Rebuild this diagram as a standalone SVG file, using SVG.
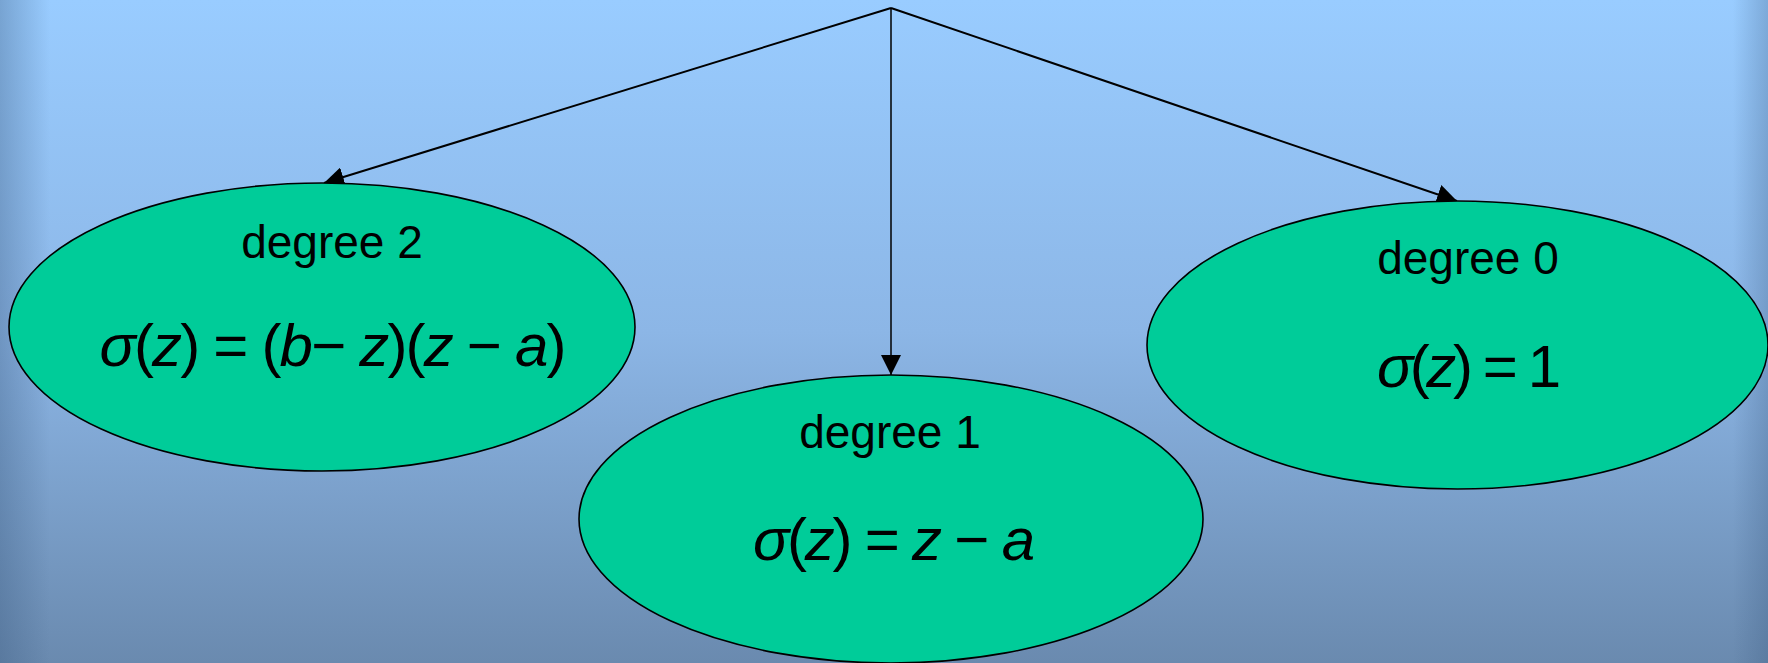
<svg xmlns="http://www.w3.org/2000/svg" width="1768" height="663" viewBox="0 0 1768 663">
  <defs>
    <linearGradient id="bg" x1="0" y1="0" x2="0" y2="1">
      <stop offset="0" stop-color="#99CCFF"/>
      <stop offset="0.5" stop-color="#8CB6E6"/>
      <stop offset="1" stop-color="#6A8AAF"/>
    </linearGradient>
    <linearGradient id="leftEdge" x1="0" y1="0" x2="1" y2="0">
      <stop offset="0" stop-color="#3A5A80" stop-opacity="0.35"/>
      <stop offset="1" stop-color="#3A5A80" stop-opacity="0"/>
    </linearGradient>
    <linearGradient id="rightEdge" x1="1" y1="0" x2="0" y2="0">
      <stop offset="0" stop-color="#3A5A80" stop-opacity="0.3"/>
      <stop offset="1" stop-color="#3A5A80" stop-opacity="0"/>
    </linearGradient>
    <marker id="arrow" markerUnits="userSpaceOnUse" markerWidth="20" markerHeight="20" refX="20" refY="10" orient="auto">
      <path d="M0,0 L20,10 L0,20 Z" fill="#000"/>
    </marker>
  </defs>
  <style>
    .node { fill: #00CC99; stroke: #000; stroke-width: 1.6; }
    .label { font-family: "Liberation Sans", Arial, sans-serif; font-size: 46px; fill: #000; text-anchor: middle; }
    .math { font-family: "Liberation Sans", Arial, sans-serif; font-size: 60px; fill: #000; text-anchor: middle; }
    .it { font-style: italic; }
    .edge { stroke: #000; fill: none; }
  </style>
  <rect x="0" y="0" width="1768" height="663" fill="url(#bg)"/>
  <rect x="0" y="0" width="50" height="663" fill="url(#leftEdge)"/>
  <rect x="1733" y="0" width="35" height="663" fill="url(#rightEdge)"/>

  <g id="connectors">
    <line class="edge" x1="891" y1="8" x2="324" y2="183" stroke-width="2" marker-end="url(#arrow)"/>
    <line class="edge" x1="891" y1="8" x2="891" y2="375" stroke-width="1.5" marker-end="url(#arrow)"/>
    <line class="edge" x1="891" y1="8" x2="1457" y2="201" stroke-width="2" marker-end="url(#arrow)"/>
  </g>

  <g id="node-degree2">
    <ellipse class="node" cx="322" cy="327" rx="313" ry="144"/>
    <text class="label" x="332" y="258">degree 2</text>
    <text class="math" x="333" y="366" textLength="467" lengthAdjust="spacing"><tspan class="it">σ</tspan>(<tspan class="it">z</tspan>) = (<tspan class="it">b</tspan>− <tspan class="it">z</tspan>)(<tspan class="it">z</tspan> − <tspan class="it">a</tspan>)</text>
  </g>

  <g id="node-degree1">
    <ellipse class="node" cx="891" cy="519" rx="312" ry="144"/>
    <text class="label" x="890" y="448">degree 1</text>
    <text class="math" x="894" y="560" textLength="282" lengthAdjust="spacing"><tspan class="it">σ</tspan>(<tspan class="it">z</tspan>) = <tspan class="it">z</tspan> − <tspan class="it">a</tspan></text>
  </g>

  <g id="node-degree0">
    <ellipse class="node" cx="1457.5" cy="345" rx="310.5" ry="144"/>
    <text class="label" x="1468" y="274">degree 0</text>
    <text class="math" x="1469" y="387" textLength="184" lengthAdjust="spacing"><tspan class="it">σ</tspan>(<tspan class="it">z</tspan>) = 1</text>
  </g>
</svg>
